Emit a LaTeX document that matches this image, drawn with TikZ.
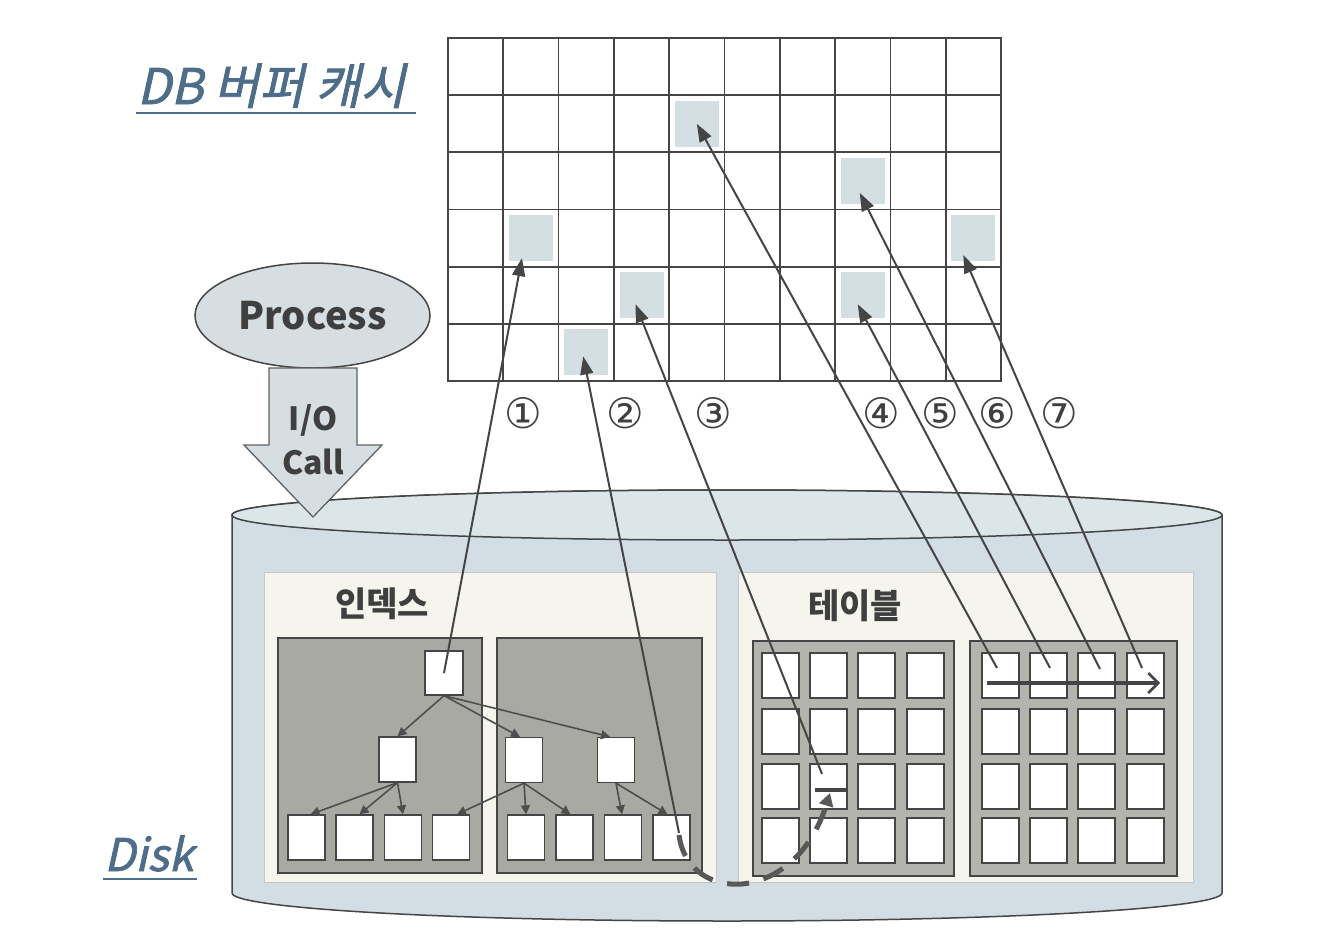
\documentclass[tikz,border=0pt]{standalone}
\usepackage{fontspec}
\setmainfont{Noto Sans CJK KR}
\newfontfamily\krit[FakeSlant=0.22,FakeBold=1.6]{Noto Sans CJK KR}
\newfontfamily\dv{DejaVu Sans}
\usetikzlibrary{arrows.meta,calc,shapes.geometric}
\definecolor{ink}{HTML}{454545}
\definecolor{txtgray}{HTML}{3F3F3F}
\definecolor{titleblue}{HTML}{4E6D89}
\definecolor{diskfill}{HTML}{D2DEE3}
\definecolor{disktop}{HTML}{DCE6E9}
\definecolor{panelfill}{HTML}{F5F5EE}
\definecolor{darkbox}{HTML}{A9A9A4}
\definecolor{tblbox}{HTML}{B4B4AE}
\definecolor{hlfill}{HTML}{D3DFE2}
\definecolor{procfill}{HTML}{D6DEE2}
\tikzset{
  gridcell/.style={draw=ink, line width=1.7pt, minimum width=55.3pt, minimum height=57.2pt, inner sep=0pt},
  hlcell/.style={fill=hlfill, minimum width=44pt, minimum height=46pt, inner sep=0pt},
  panelbox/.style={draw=black!22, line width=1pt, fill=panelfill, inner sep=0pt},
  treebox/.style={draw=ink, line width=1.4pt, fill=darkbox, inner sep=0pt},
  tblframe/.style={draw=ink, line width=1.4pt, fill=tblbox, inner sep=0pt},
  wcell/.style={draw=ink, line width=1.3pt, fill=white, minimum width=37pt, minimum height=45pt, inner sep=0pt},
  treearrow/.style={draw=ink!95, line width=1.6pt, -{Triangle[length=9pt,width=9pt]}},
  fetch/.style={draw=ink, line width=2pt, -{Triangle[length=18pt,width=13pt]}},
  numlabel/.style={font=\dv\fontsize{42}{42}\selectfont, text=txtgray, inner sep=0pt},
  boldlabel/.style={font=\bfseries\fontsize{34}{34}\selectfont, text=txtgray, inner sep=0pt},
  titlelabel/.style={font=\krit\fontsize{49}{49}\selectfont, text=titleblue, inner sep=0pt, anchor=base west}
}
\begin{document}
\begin{tikzpicture}[x=1pt,y=-1pt]
\useasboundingbox (0,0) rectangle (1326,948);
\fill[white] (0,0) rectangle (1326,948);

% ---------- titles ----------
\node[titlelabel] (ttl) at (137,104) {DB 버퍼 캐시};
\draw[titleblue, line width=1.6pt] (136,113) -- (416,113);
\node[titlelabel, font=\krit\fontsize{45}{45}\selectfont] (dsk) at (104,871) {Disk};
\draw[titleblue, line width=1.6pt] (103,879) -- (197,879);

% ---------- buffer cache grid ----------
\foreach \r in {0,...,5}{
  \foreach \c in {0,...,9}{
    \node[gridcell] (g-\r-\c) at ({448+55.3*(\c+0.5)},{38+57.17*(\r+0.5)}) {};
  }
}
\node[hlcell] (h4) at (g-1-4) {};
\node[hlcell] (h6) at (g-2-7) {};
\node[hlcell] (h1) at (g-3-1) {};
\node[hlcell] (h7) at (g-3-9) {};
\node[hlcell] (h3) at (g-4-3) {};
\node[hlcell] (h5) at (g-4-7) {};
\node[hlcell] (h2) at (g-5-2) {};

% ---------- process ----------
\node[draw=ink, line width=1.5pt, ellipse, fill=procfill, minimum width=235pt, minimum height=105pt, inner sep=0pt,
      font=\bfseries\fontsize{38}{38}\selectfont, text=txtgray] (proc) at (312.5,315.5) {Process};

% ---------- disk cylinder ----------
\path[draw=ink, line width=1.5pt, fill=diskfill]
  (232,515) -- (232,893) arc[start angle=180, end angle=0, x radius=495, y radius=28]
  -- (1222,515) arc[start angle=0, end angle=-180, x radius=495, y radius=25] -- cycle;
\path[draw=ink, line width=1.5pt, fill=disktop] (727,515) ellipse[x radius=495, y radius=25];

% ---------- I/O call arrow ----------
\path[draw=ink!85, line width=1.3pt, fill=procfill]
  (269,368) -- (357,368) -- (357,445) -- (382,445) -- (313,517) -- (244,445) -- (269,445) -- cycle;
\node[font=\bfseries\fontsize{32}{32}\selectfont, text=txtgray, inner sep=0pt] (io) at (313,420) {I/O};
\node[font=\bfseries\fontsize{32}{32}\selectfont, text=txtgray, inner sep=0pt] (call) at (313,462) {Call};

% ---------- panels ----------
\node[panelbox, minimum width=452pt, minimum height=310pt] (pidx) at (490,727) {};
\node[panelbox, minimum width=455pt, minimum height=310pt] (ptbl) at (965.5,727) {};
\node[boldlabel] (lidx) at (382,604) {인덱스};
\node[boldlabel] (ltbl) at (855,606) {테이블};

% ---------- index trees ----------
\node[treebox, minimum width=204pt, minimum height=235pt] (tb1) at (380,755.5) {};
\node[treebox, minimum width=205pt, minimum height=235pt] (tb2) at (599.5,755.5) {};
\node[wcell, minimum width=38pt, minimum height=44pt] (root) at (444,673) {};
\node[wcell] (na) at (397.5,759.5) {};
\node[wcell] (nb) at (524,760) {};
\node[wcell] (nc) at (616,760) {};
\foreach \i/\x in {1/306.5,2/354.5,3/403,4/451,5/526,6/574.5,7/623,8/671.5}{
  \node[wcell] (lf\i) at (\x,837.5) {};
}
\draw[treearrow] (root.south) -- (na.north);
\draw[treearrow] (root.south) -- ($(nb.north)+(-4,0)$);
\draw[treearrow] (root.south) -- ($(nc.north)+(-6,0)$);
\draw[treearrow] (na.south) -- ($(lf1.north)+(4,0)$);
\draw[treearrow] (na.south) -- ($(lf2.north)+(5,0)$);
\draw[treearrow] (na.south) -- ($(lf3.north)+(0,0)$);
\draw[treearrow] (nb.south) -- ($(lf4.north)+(6,0)$);
\draw[treearrow] (nb.south) -- ($(lf5.north)+(0,0)$);
\draw[treearrow] (nb.south) -- ($(lf6.north)+(-4,0)$);
\draw[treearrow] (nc.south) -- ($(lf7.north)+(-1,0)$);
\draw[treearrow] (nc.south) -- ($(lf8.north)+(-4,0)$);

% ---------- tables ----------
\node[tblframe, minimum width=201pt, minimum height=235pt] (tt1) at (853.5,758.5) {};
\node[tblframe, minimum width=207pt, minimum height=235pt] (tt2) at (1073.5,758.5) {};
\foreach \r/\y in {1/675.5,2/731.5,3/786.5,4/840.5}{
  \foreach \c/\x in {1/780.5,2/828.5,3/876.5,4/925.5}{
    \node[wcell] (a-\r-\c) at (\x,\y) {};
  }
  \foreach \c/\x in {1/1000.5,2/1048.5,3/1096.5,4/1145.5}{
    \node[wcell] (b-\r-\c) at (\x,\y) {};
  }
}
% row marker in left table
\coordinate (barL) at (815,790);
\coordinate (barR) at (846,790);
\draw[ink, line width=4.5pt] (barL) -- (barR);
% scan arrow in right table
\coordinate (scanS) at (987,683);
\coordinate (scanE) at (1160,683);
\draw[ink, line width=3.5pt, -{Straight Barb[length=10pt,width=20pt,line width=2.5pt]}] (scanS) -- (scanE);

% ---------- dashed index-to-table access ----------
\coordinate (leafpt) at (679,835);
\coordinate (bartip) at (830,793);
\draw[ink!90, line width=5pt, dash pattern=on 22pt off 15pt, -{Triangle[length=13pt,width=14pt]}]
  (leafpt) .. controls (688,905) and (795,905) .. (bartip);

% ---------- fetch arrows ----------
\coordinate (s1) at (444,673);
\coordinate (s2) at (679,833);
\coordinate (s3) at (822,774);
\coordinate (s4) at (997,668);
\coordinate (s5) at (1050,668);
\coordinate (s6) at (1100,669);
\coordinate (s7) at (1142,668);
\draw[fetch] (s1) -- ($(h1)+(-9,20)$);
\draw[fetch] (s2) -- ($(h2)+(-3,4)$);
\draw[fetch] (s3) -- ($(h3)+(-6,9)$);
\draw[fetch] (s4) -- ($(h4)+(0,0)$);
\draw[fetch] (s5) -- ($(h5)+(-5,9)$);
\draw[fetch] (s6) -- ($(h6)+(-3,12)$);
\draw[fetch] (s7) -- ($(h7)+(-10,17)$);

% ---------- step numbers ----------
\node[numlabel] (n1) at (523,413) {①};
\node[numlabel] (n2) at (625,413) {②};
\node[numlabel] (n3) at (713,413) {③};
\node[numlabel] (n4) at (881,413) {④};
\node[numlabel] (n5) at (940,413) {⑤};
\node[numlabel] (n6) at (997,413) {⑥};
\node[numlabel] (n7) at (1059,413) {⑦};
\end{tikzpicture}
\end{document}
